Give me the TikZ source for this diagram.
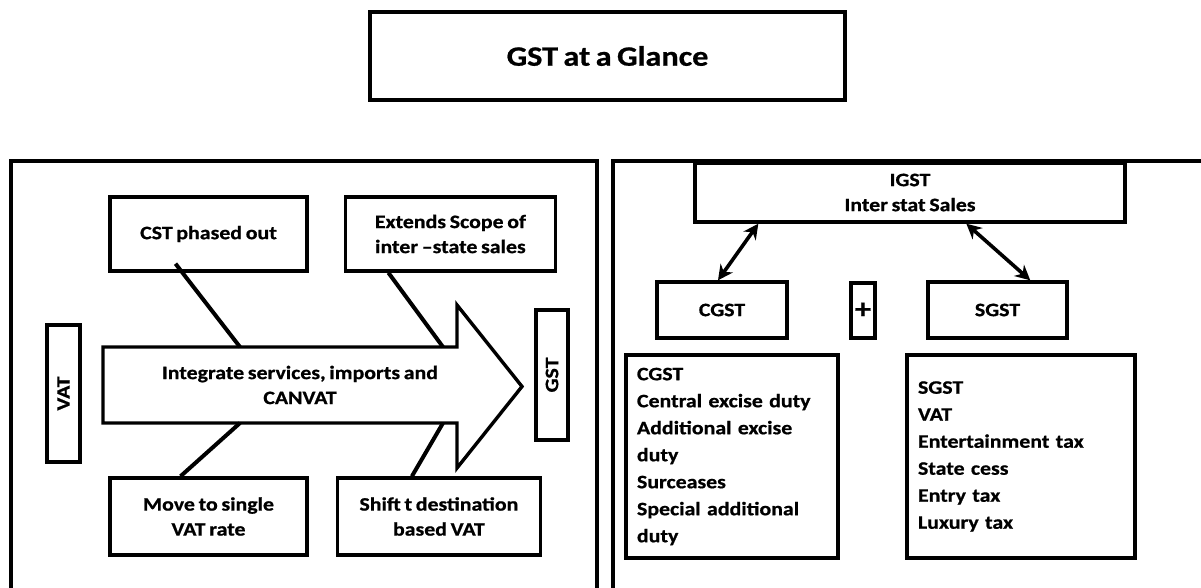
\documentclass[tikz,border=0pt]{standalone}
\usepackage{fontspec}
\setmainfont{Carlito}[FakeStretch=1.15, WordSpace=0.75, BoldFeatures={FakeBold=0.8}]
\usetikzlibrary{arrows.meta, positioning, calc}

\begin{document}
\begin{tikzpicture}[
    x=1pt, y=-1pt,
    box/.style={draw, line width=3.4pt, align=center, inner sep=0pt, font=\bfseries\fontsize{19}{25}\selectfont},
    listbox/.style={box, align=left, inner xsep=11pt, font=\bfseries\fontsize{19}{27}\selectfont},
    frame/.style={line width=3.4pt},
    link/.style={line width=4pt},
    dblarrow/.style={{Stealth[length=15pt,width=15pt]}-{Stealth[length=15pt,width=15pt]}, line width=3.6pt}
]
\useasboundingbox (0,0) rectangle (1201,588);

\node[box, font=\bfseries\fontsize{28}{30}\selectfont, minimum width=475, minimum height=88] (title) at (607.5,56) {GST at a Glance};

\draw[frame] (11,600) |- (597,161) -- (597,600);
\draw[frame] (613,600) |- (1210,161);

\node[box, minimum width=197, minimum height=74] (cst) at (208.5,234) {CST phased out};
\node[box, minimum width=210, minimum height=74, right=35pt of cst] (scope) {Extends Scope of\\inter –state sales};
\node[box, minimum width=197, minimum height=77] (single) at (208.5,516.5) {Move to single\\VAT rate};
\node[box, minimum width=203, minimum height=77, right=27pt of single] (dest) {Shift t destination\\based VAT};
\node[box, rotate=90, minimum width=137, minimum height=33] (vat) at (63.5,393.5) {VAT};
\node[box, rotate=90, minimum width=130, minimum height=32] (gst) at (552,375) {GST};

\draw[line width=3.4pt] (103,347) -- (457,347) -- (457,305) -- (522,386.5) -- (457,468) -- (457,423) -- (103,423) -- cycle;
\node[box, draw=none] (integ) at (300,385) {Integrate services, imports and\\CANVAT};
\coordinate (t1) at (240,347);
\coordinate (t2) at (443,347);
\coordinate (b1) at (240,423);
\coordinate (b2) at (443,423);

\draw[link] ($(cst.south)+(-33,-9)$) -- (t1);
\draw[link] ($(scope.south)+(-62,0)$) -- (t2);
\draw[link] ($(single.north)+(-28,0)$) -- (b1);
\draw[link] ($(dest.north)+(-27,0)$) -- (b2);

\node[box, minimum width=430, minimum height=59] (igst) at (910,192.5) {IGST\\Inter stat Sales};
\node[box, minimum width=130, minimum height=56] (cgst) at (722,310) {CGST};
\node[box, minimum width=24, minimum height=55, font=\bfseries\fontsize{28}{28}\selectfont] (plus) at (863,310.5) {+};
\node[box, minimum width=139, minimum height=56] (sgst) at (997.5,310) {SGST};
\node[listbox, text width=190, minimum height=203] (clist) at (732,456.5) {CGST\\Central excise duty\\Additional excise\\duty\\Surceases\\Special additional\\duty};
\node[listbox, text width=206, minimum height=203] (slist) at (1021,456.5) {SGST\\VAT\\Entertainment tax\\State cess\\Entry tax\\Luxury tax};

\draw[dblarrow] ($(cgst.north west)!0.47!(cgst.north east)$) -- ($(igst.south west)!0.15!(igst.south east)$);
\draw[dblarrow] ($(igst.south west)!0.63!(igst.south east)$) -- ($(sgst.north west)!0.73!(sgst.north east)$);
\end{tikzpicture}
\end{document}
